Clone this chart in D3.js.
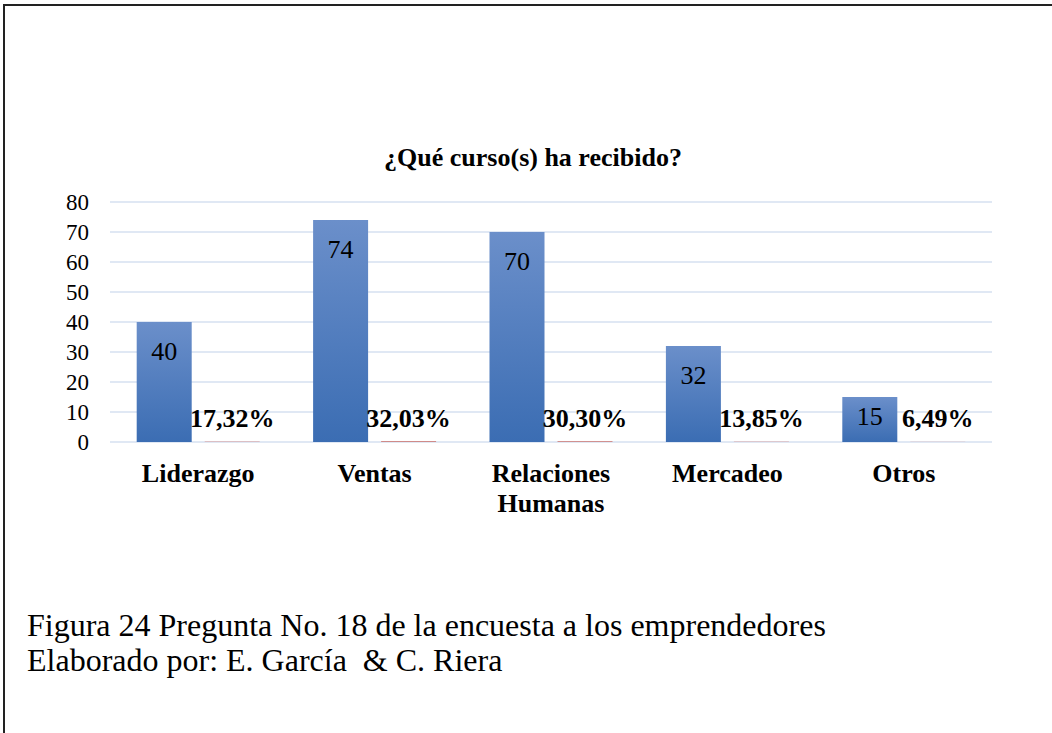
<!DOCTYPE html>
<html>
<head>
<meta charset="utf-8">
<script src="https://cdn.jsdelivr.net/npm/d3@7"></script>
<style>
  body { margin: 0; background: #fff; }
  text { font-family: "Liberation Serif", "Times New Roman", serif; fill: #000; }
</style>
</head>
<body>
<div class="chart"></div>
<script>
var categories = ["Liderazgo", "Ventas", "Relaciones Humanas", "Mercadeo", "Otros"];
var counts = [40, 74, 70, 32, 15];
var shares = [0.1732, 0.3203, 0.3030, 0.1385, 0.0649];
var shareLabels = ["17,32%", "32,03%", "30,30%", "13,85%", "6,49%"];
var yTicks = [0, 10, 20, 30, 40, 50, 60, 70, 80];
var titleText = "¿Qué curso(s) ha recibido?";
var captionLines = ["Figura 24 Pregunta No. 18 de la encuesta a los emprendedores",
                    "Elaborado por: E. García  & C. Riera"];

var W = 1052, H = 733;
var margin = {top: 202, left: 110, right: 60, bottom: 291};
var width = W - margin.left - margin.right,
    height = H - margin.top - margin.bottom;

var svg = d3.select(".chart").append("svg")
    .attr("width", W).attr("height", H);

// frame of the figure
svg.append("path")
    .attr("d", "M4,733 V5 H1052")
    .attr("fill", "none")
    .attr("stroke", "#222")
    .attr("stroke-width", 2);

var defs = svg.append("defs");
var gBlue = defs.append("linearGradient").attr("id", "gblue")
    .attr("x1", 0).attr("y1", 0).attr("x2", 0).attr("y2", 1);
gBlue.append("stop").attr("offset", "0%").attr("stop-color", "#6b8fca");
gBlue.append("stop").attr("offset", "100%").attr("stop-color", "#3b6db3");
var gRed = defs.append("linearGradient").attr("id", "gred")
    .attr("x1", 0).attr("y1", 0).attr("x2", 0).attr("y2", 1);
gRed.append("stop").attr("offset", "0%").attr("stop-color", "#d89a98");
gRed.append("stop").attr("offset", "100%").attr("stop-color", "#c57370");

var g = svg.append("g")
    .attr("transform", "translate(" + margin.left + "," + margin.top + ")");

var x = d3.scaleBand().domain(categories).range([0, width]).paddingInner(0).paddingOuter(0);
var y = d3.scaleLinear().domain([0, 80]).range([height, 0]);

var barW = 55, gap = 13;
var off0 = (x.bandwidth() - 2 * barW - gap) / 2;

// gridlines
g.selectAll(".grid").data(yTicks).enter().append("line")
    .attr("x1", 0).attr("x2", width)
    .attr("y1", d => y(d)).attr("y2", d => y(d))
    .attr("stroke", "#d6e1f0").attr("stroke-width", 1.5);

// y axis labels
var yAxis = d3.axisLeft(y).tickValues(yTicks).tickSize(0).tickPadding(21);
var ya = g.append("g").call(yAxis);
ya.select(".domain").remove();
ya.selectAll("text")
    .style("font-family", "'Liberation Serif', 'Times New Roman', serif")
    .style("font-size", "23px").attr("fill", "#000");

// count bars
g.selectAll(".bar").data(categories).enter().append("rect")
    .attr("x", d => x(d) + off0)
    .attr("y", (d, i) => y(counts[i]))
    .attr("width", barW)
    .attr("height", (d, i) => y(0) - y(counts[i]))
    .attr("fill", "url(#gblue)");

// share bars (fractions, nearly flat)
g.selectAll(".bar2").data(categories).enter().append("rect")
    .attr("x", d => x(d) + off0 + barW + gap)
    .attr("y", (d, i) => y(shares[i]))
    .attr("width", barW)
    .attr("height", (d, i) => y(0) - y(shares[i]))
    .attr("fill", "url(#gred)");

// count labels
g.selectAll(".lbl").data(categories).enter().append("text")
    .attr("x", d => x(d) + off0 + barW / 2)
    .attr("y", (d, i) => Math.min(y(counts[i]) + 38, y(0) - 17))
    .attr("text-anchor", "middle")
    .style("font-size", "26px")
    .attr("fill", "#111")
    .text((d, i) => counts[i]);

// share labels
g.selectAll(".lbl2").data(categories).enter().append("text")
    .attr("x", d => x(d) + off0 + barW * 1.5 + gap)
    .attr("y", y(0) - 15)
    .attr("text-anchor", "middle")
    .style("font-size", "26px").style("font-weight", "bold")
    .text((d, i) => shareLabels[i]);

// category labels
var cat = g.selectAll(".cat").data(categories).enter().append("text")
    .attr("x", d => x(d) + x.bandwidth() / 2)
    .attr("y", height + 40)
    .attr("text-anchor", "middle")
    .style("font-size", "26px").style("font-weight", "bold");
cat.each(function(d) {
    var words = d.split(" ");
    var t = d3.select(this);
    words.forEach(function(w, k) {
        t.append("tspan").attr("x", x(d) + x.bandwidth() / 2)
            .attr("dy", k === 0 ? 0 : 30).text(w);
    });
});

// title
svg.append("text")
    .attr("x", 533).attr("y", 166)
    .attr("text-anchor", "middle")
    .style("font-size", "26px").style("font-weight", "bold")
    .text(titleText);

// caption
svg.selectAll(".cap").data(captionLines).enter().append("text")
    .attr("x", 27).attr("y", (d, i) => 636 + i * 35)
    .style("font-size", "32px")
    .style("white-space", "pre")
    .text(d => d);
</script>
</body>
</html>
